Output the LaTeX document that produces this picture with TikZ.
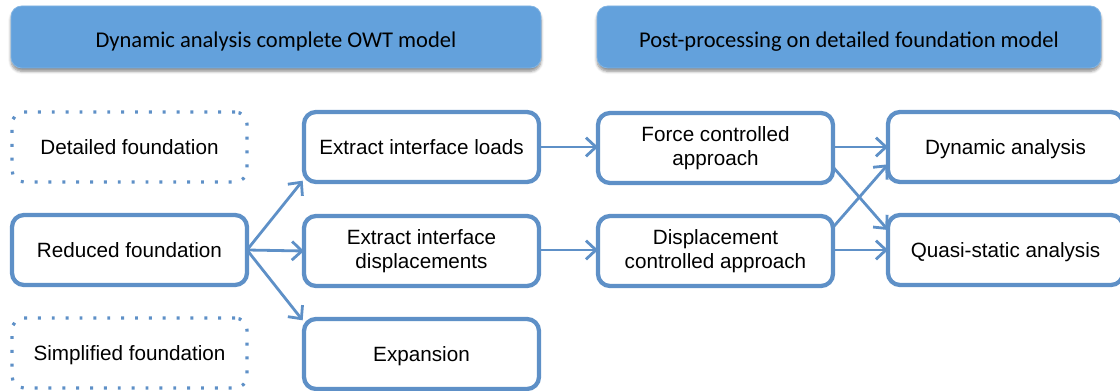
\documentclass[tikz,border=0pt]{standalone}
\usepackage{fontspec}
\setmainfont{Liberation Sans}
\newfontfamily\headfont{Carlito}
\usetikzlibrary{arrows.meta,shadows.blur}
\definecolor{boxblue}{RGB}{94,144,199}
\definecolor{headblue}{RGB}{99,161,220}
\tikzset{
  px/.style={x=0.75pt,y=-0.75pt},
  header/.style={draw=headblue!80!white,line width=0.6pt,fill=headblue,rounded corners=8pt,
    minimum height=46.5pt,inner sep=0pt,text height=16pt,text depth=0.5pt,
    blur shadow={shadow xshift=0pt,shadow yshift=-2.5pt,shadow blur steps=6,shadow opacity=45},
    font=\headfont\fontsize{16.9}{19}\selectfont,text=black},
  stepbox/.style={draw=boxblue,line width=3.2pt,fill=white,rounded corners=9pt,
    minimum width=176.25pt,minimum height=52.5pt,inner sep=0pt,outer sep=0pt,
    font=\fontsize{15.5}{18.3}\selectfont,align=center},
  dotbox/.style={stepbox,line width=2.4pt,dash pattern=on 2.2pt off 8.2pt},
  oneline/.style={text height=14.3pt,text depth=3.3pt},
  link/.style={draw=boxblue,line width=2.1pt,-{Straight Barb[length=7.5pt,width=14pt,line width=2.1pt]}}
}
\begin{document}
\begin{tikzpicture}[px]
\useasboundingbox (0,0) rectangle (1120,391);
% section headers
\node[header,minimum width=397.5pt] (h1) at (276,37) {Dynamic analysis complete OWT model};
\node[header,minimum width=378pt] (h2) at (849,37) {Post-processing on detailed foundation model};
% foundation models
\node[dotbox,oneline] (det) at (129.5,147) {Detailed foundation};
\node[stepbox,oneline] (red) at (129.5,250) {Reduced foundation};
\node[dotbox,oneline] (sim) at (129.5,353) {Simplified foundation};
% extraction
\node[stepbox,oneline] (load) at (421.5,147) {Extract interface loads};
\node[stepbox] (disp) at (421.5,251) {Extract interface\\displacements};
\node[stepbox,oneline] (exp) at (421.5,354) {Expansion};
% approaches
\node[stepbox] (force) at (715.5,148) {Force controlled\\approach};
\node[stepbox] (dcon) at (715.5,251) {Displacement\\controlled approach};
% analyses
\node[stepbox,oneline] (dyn) at (1005.5,147) {Dynamic analysis};
\node[stepbox,oneline] (qs) at (1005.5,250) {Quasi-static analysis};
% connectors
\draw[link] (red.east) -- ([shift={(-1pt,1pt)}]load.south west);
\draw[link] (red.east) -- (disp.west);
\draw[link] (red.east) -- ([shift={(-1pt,-1pt)}]exp.north west);
\draw[link] (load.east) -- (force.west |- load.east);
\draw[link] (disp.east |- red.east) -- (dcon.west |- red.east);
\draw[link] (force.east |- dyn.west) -- (dyn.west);
\draw[link] ([yshift=-15pt]force.east |- dyn.west) -- ([yshift=15pt]qs.west);
\draw[link] ([yshift=17pt]dcon.east |- qs.west) -- ([yshift=-13pt]dyn.west);
\draw[link] (dcon.east |- qs.west) -- (qs.west);
\end{tikzpicture}
\end{document}
